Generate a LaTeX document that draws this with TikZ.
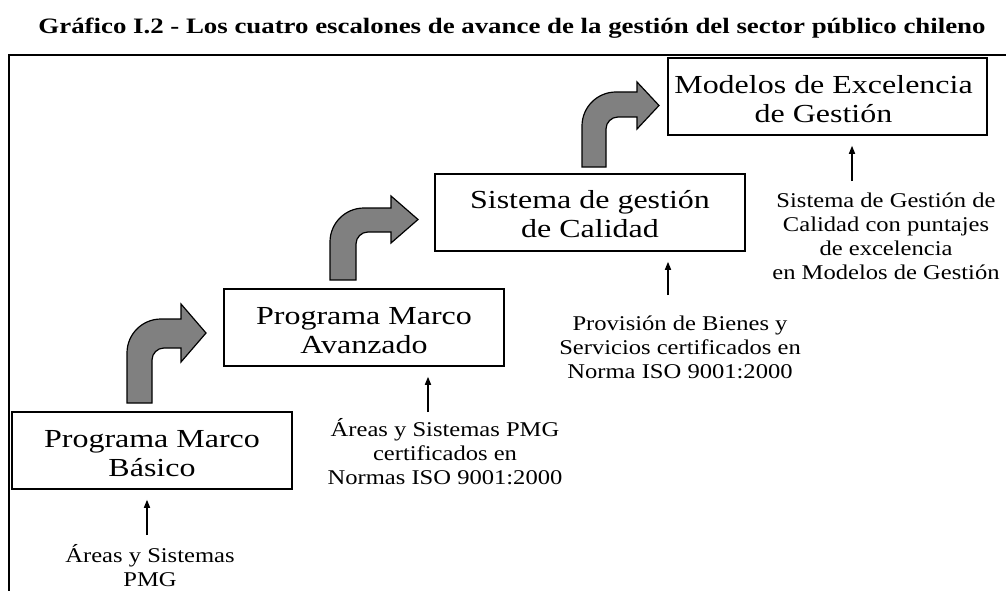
\documentclass[tikz,border=0pt]{standalone}
\usepackage{fontspec}
\setmainfont{Liberation Serif}
\newfontfamily\boxfont[FakeStretch=1.23]{Liberation Serif}
\newfontfamily\smallfont[FakeStretch=1.17]{Liberation Serif}
\newfontfamily\titlefont[FakeStretch=1.22]{Liberation Serif}
\usetikzlibrary{arrows.meta}
\definecolor{arrowgray}{RGB}{128,128,128}
\tikzset{
  stepbox/.style={draw, line width=1.5pt, minimum height=77pt, inner sep=0pt},
  boxtext/.style={align=center, inner sep=0pt, font=\boxfont\fontsize{26}{29}\selectfont},
  note/.style={align=center, inner sep=0pt, font=\smallfont\fontsize{21}{24}\selectfont},
  bigarrow/.style={fill=arrowgray, draw=black, line width=1.2pt, line join=miter},
  smallarrow/.style={line width=1.5pt, -{Triangle[length=8pt,width=6pt]}, shorten >=10pt},
  frameline/.style={line width=2pt}
}
% #1 L, #2 R, #3 bottom, #4 shaft top, #5 shaft bottom, #6 head base, #7 head top, #8 head bottom, #9 tip x
\newcommand\bentarrow[9]{%
  \draw[bigarrow] (#1,#3) -- (#1,{#4+34}) .. controls (#1,{#4+15.2}) and ({#1+15.2},#4) .. ({#1+34},#4)
    -- (#6,#4) -- (#6,#7) -- (#9,{(#7+#8)/2}) -- (#6,#8) -- (#6,#5) -- ({#2+12},#5)
    .. controls ({#2+5.4},#5) and (#2,{#5+5.4}) .. (#2,{#5+12}) -- (#2,#3) -- cycle;}
\begin{document}
\begin{tikzpicture}[x=1pt,y=-1pt]
\useasboundingbox (0,0) rectangle (1006,591);
\node[font=\titlefont\bfseries\fontsize{22}{26}\selectfont] (title) at (512,28)
  {Gráfico I.2 - Los cuatro escalones de avance de la gestión del sector público chileno};
\draw[frameline] (9,591) -- (9,55.5) -- (1006,55.5);

\node[stepbox, minimum width=280pt] (b1) at (152,450.5) {};
\node[stepbox, minimum width=280pt] (b2) at (364,327.5) {};
\node[stepbox, minimum width=310pt] (b3) at (590,212.5) {};
\node[stepbox, minimum width=319pt] (b4) at (827.5,96.5) {};
\node[boxtext] (t1) at ([yshift=-3pt]b1.center) {Programa Marco\\Básico};
\node[boxtext] (t2) at ([yshift=-3pt]b2.center) {Programa Marco\\Avanzado};
\node[boxtext] (t3) at ([yshift=-2pt]b3.center) {Sistema de gestión\\de Calidad};
\node[boxtext] (t4) at ([yshift=-3pt,xshift=-4pt]b4.center) {Modelos de Excelencia\\de Gestión};

\bentarrow{127}{152}{403}{319}{348}{181}{304}{362}{206}
\bentarrow{330}{356}{280}{208}{232}{391}{196}{243}{418}
\bentarrow{582}{606}{167}{92}{117}{637}{82}{129}{659}

\node[note] (n1) at (150,566) {Áreas y Sistemas\\PMG};
\node[note] (n2) at (445,452) {Áreas y Sistemas PMG\\certificados en\\Normas ISO 9001:2000};
\node[note] (n3) at (680,347) {Provisión de Bienes y\\Servicios certificados en\\Norma ISO 9001:2000};
\node[note] (n4) at (886,236) {Sistema de Gestión de\\Calidad con puntajes\\de excelencia\\en Modelos de Gestión};

\coordinate (s1) at (147,535);
\coordinate (s2) at (428,412);
\coordinate (s3) at (668,295);
\coordinate (s4) at (852,181);
\draw[smallarrow] (s1) -- (s1 |- b1.south);
\draw[smallarrow] (s2) -- (s2 |- b2.south);
\draw[smallarrow] (s3) -- (s3 |- b3.south);
\draw[smallarrow] (s4) -- (s4 |- b4.south);
\end{tikzpicture}
\end{document}
